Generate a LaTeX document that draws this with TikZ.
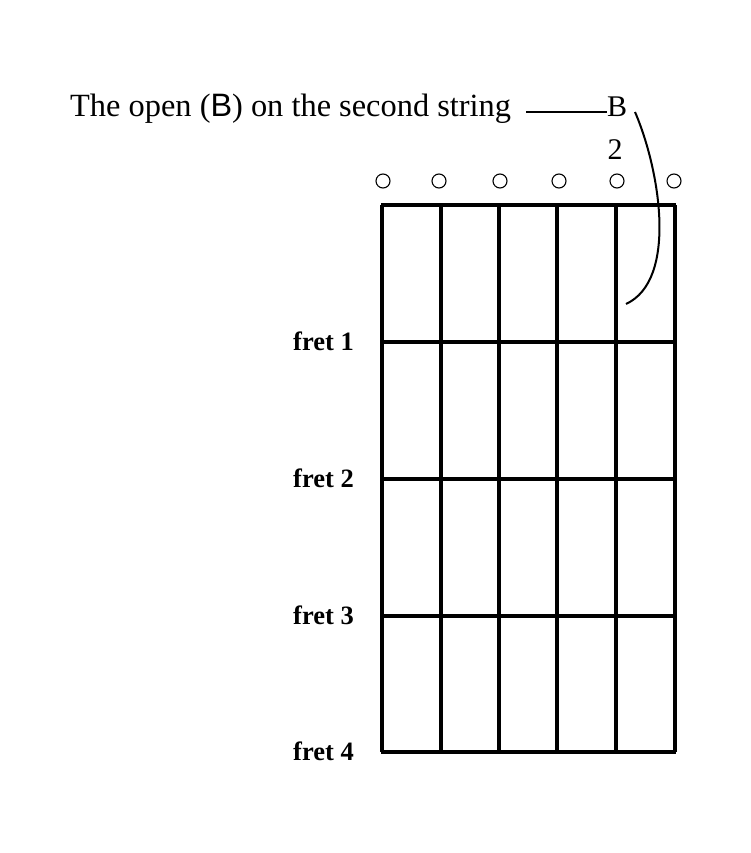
\documentclass[tikz,border=0pt]{standalone}
\usepackage{fontspec}
\setmainfont{Liberation Serif}
\newfontfamily\sansfont{Liberation Sans}
\usetikzlibrary{positioning}
\tikzset{fretline/.style={line width=3.2pt},
         stringline/.style={line width=3.2pt},
         openmark/.style={circle,draw,line width=1.1pt,minimum size=14pt,inner sep=0pt},
         fretlabel/.style={anchor=base east,inner sep=0pt,font=\fontsize{26.5}{28}\selectfont\bfseries},
         notelabel/.style={inner sep=0pt,font=\fontsize{30}{32}\selectfont}}

\begin{document}
\begin{tikzpicture}[x=1pt,y=-1pt]
 \useasboundingbox (0,0) rectangle (751,853);
 % strings and frets
 \foreach \s/\x in {1/675,2/616,3/557,4/499,5/441,6/382}
   {\draw[stringline] (\x,205) -- (\x,752);}
 \foreach \f/\y in {0/205,1/342,2/479,3/616,4/752}
   {\draw[fretline] (381,\y) -- (676,\y);}
 \foreach \f/\y in {1/342,2/479,3/616,4/752}
   {\node[fretlabel] (fret\f) at (354,\y+8) {fret \f};}
 % open strings
 \foreach \s/\x in {1/674,2/617,3/559,4/500,5/439,6/383}
   {\node[openmark] (open\s) at (\x,181) {};}
 % caption
 \node[notelabel,anchor=base west,font=\fontsize{32.4}{34}\selectfont] (caption) at (70,117) {The open ({\sansfont B}) on the second string};
 \node[notelabel,anchor=base] (Bnote) at (617,117) {B};
 \node[notelabel,anchor=base] (Bfinger) at (615,160) {2};
 \coordinate (lead) at (526,112);
 \coordinate (cstart) at (635,112);
 \coordinate (cend) at (626,304);
 \draw[line width=1.7pt] (lead) -- (Bnote.west |- lead);
 \draw[line width=2pt] (cstart) .. controls (660,170) and (678,280) .. (cend);
\end{tikzpicture}
\end{document}
